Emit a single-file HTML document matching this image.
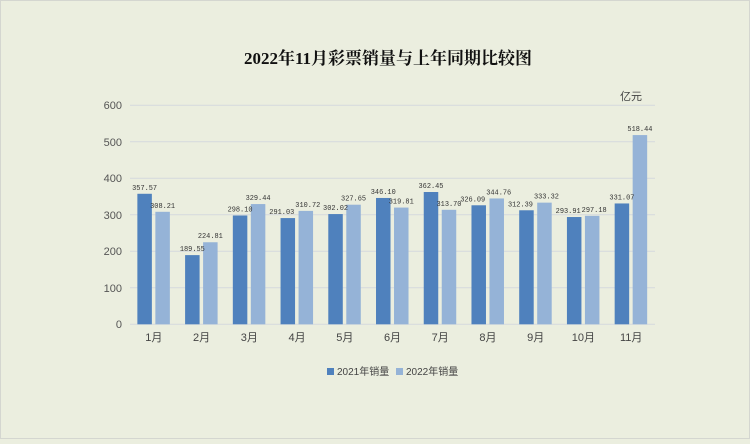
<!DOCTYPE html><html><head><meta charset="utf-8"><style>
body{margin:0;width:750px;height:439px;overflow:hidden;background:#ebeedf}
</style></head><body>
<svg width="750" height="439" xmlns="http://www.w3.org/2000/svg" font-family="'Liberation Sans','Noto Sans CJK SC',sans-serif">
<rect x="0.5" y="0.5" width="749" height="438" fill="#ebeedf" stroke="#d4d6d0"/>
<text x="388" y="64" text-anchor="middle" font-family="'Liberation Serif','Noto Serif CJK SC',serif" font-weight="bold" font-size="17" fill="#111">2022年11月彩票销量与上年同期比较图</text>
<text x="631" y="100" text-anchor="middle" font-size="11" fill="#444">亿元</text>
<g stroke="#d5d9dd" stroke-width="1">
<line x1="130" x2="655" y1="105.3" y2="105.3"/><line x1="130" x2="655" y1="141.8" y2="141.8"/><line x1="130" x2="655" y1="178.3" y2="178.3"/><line x1="130" x2="655" y1="214.8" y2="214.8"/><line x1="130" x2="655" y1="251.3" y2="251.3"/><line x1="130" x2="655" y1="287.8" y2="287.8"/><line x1="130" x2="655" y1="324.3" y2="324.3"/>
</g>
<g font-size="11" fill="#555" text-anchor="end">
<text x="122" y="109">600</text><text x="122" y="146">500</text><text x="122" y="182">400</text><text x="122" y="219">300</text><text x="122" y="255">200</text><text x="122" y="292">100</text><text x="122" y="328">0</text>
</g>
<g id="bars"></g>
<g font-size="11" fill="#444" text-anchor="middle" id="xl"></g>
<g font-family="'Liberation Mono','DejaVu Sans Mono',monospace" font-size="7.5" fill="#333" id="lbl"></g>
<rect x="327" y="368" width="7" height="7" fill="#4f81bd"/>
<text x="337" y="375" font-size="10" fill="#444">2021年销量</text>
<rect x="396" y="368" width="7" height="7" fill="#95b3d7"/>
<text x="406" y="375" font-size="10" fill="#444">2022年销量</text>
<script>
var a=[357.57,189.55,298.10,291.03,302.02,346.10,362.45,326.09,312.39,293.91,331.07];
var b=[308.21,224.81,329.44,310.72,327.65,319.81,313.70,344.76,333.32,297.18,518.44];
var ns="http://www.w3.org/2000/svg",g=document.getElementById('bars'),xl=document.getElementById('xl'),lb=document.getElementById('lbl');
function el(p,t,at,tx){var e=document.createElementNS(ns,t);for(var k in at)e.setAttribute(k,at[k]);if(tx)e.textContent=tx;p.appendChild(e);}
for(var i=0;i<11;i++){var c=130+47.73*(i+0.5);
[[a[i],c-16.5,'#4f81bd',-6],[b[i],c+1.5,'#95b3d7',2]].forEach(function(d){var y=324.3-d[0]*0.365;
el(g,'rect',{x:d[1],y:y,width:14.5,height:324.3-y,fill:d[2]});
var cx=d[1]+7.25+(Math.abs(a[i]-b[i])<25?d[3]:0);
el(lb,'text',{x:cx-12.5,y:y-4,textLength:25,lengthAdjust:'spacingAndGlyphs'},d[0].toFixed(2));});
el(xl,'text',{x:c,y:341},(i+1)+'月');}
</script>
</svg></body></html>
